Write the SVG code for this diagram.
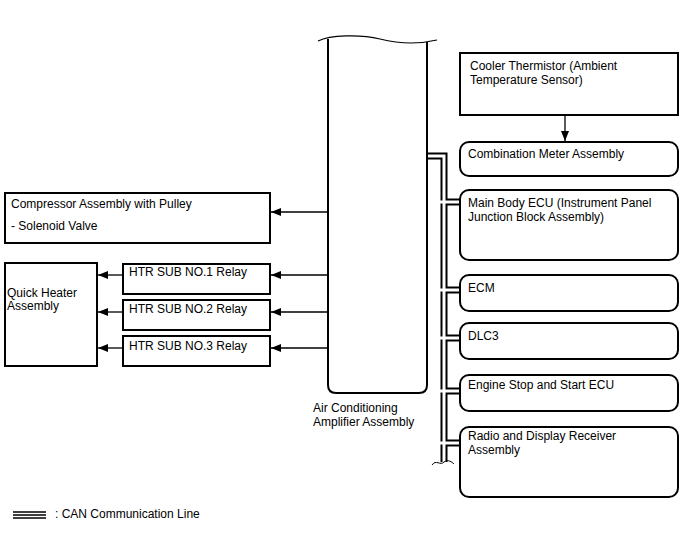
<svg xmlns="http://www.w3.org/2000/svg" width="688" height="560" viewBox="0 0 688 560">
<defs>
<marker id="ah" viewBox="0 0 10 8" refX="10" refY="4" markerWidth="10" markerHeight="8" markerUnits="userSpaceOnUse" orient="auto">
<path d="M0,0 L10,4 L0,8 Z" fill="#000"/>
</marker>
<style>
.box{fill:#fff;stroke:#000;stroke-width:2}
.t{font-family:"Liberation Sans",Arial,sans-serif;font-size:12px;fill:#000}
.arr{stroke:#000;stroke-width:1.3;fill:none;marker-end:url(#ah)}
.busO{stroke:#000;stroke-width:7;fill:none}
.busI{stroke:#fff;stroke-width:3;fill:none}
</style>
</defs>
<rect width="688" height="560" fill="#fff"/>
<g id="connectors">
<path class="busO" d="M427,156 H444 V462"/>
<path class="busO" d="M444,202 H461 M444,290 H461 M444,338 H461 M444,391 H461 M444,443 H461"/>
<path class="busI" d="M427,156 H444 V462"/>
<path class="busI" d="M440,202 H461 M440,290 H461 M440,338 H461 M440,391 H461 M440,443 H461"/>
<path d="M432,465 C436,459 440,466 444,462 C448,459 452,462 454,464" stroke="#000" stroke-width="1" fill="none"/>
<line class="arr" x1="565" y1="115" x2="565" y2="141"/>
<line class="arr" x1="328" y1="212" x2="271" y2="212"/>
<line class="arr" x1="328" y1="275" x2="271" y2="275"/>
<line class="arr" x1="328" y1="312" x2="271" y2="312"/>
<line class="arr" x1="328" y1="348" x2="271" y2="348"/>
<line class="arr" x1="123" y1="275" x2="98" y2="275"/>
<line class="arr" x1="123" y1="312" x2="98" y2="312"/>
<line class="arr" x1="123" y1="348" x2="98" y2="348"/>
</g>
<g id="amplifier">
<path d="M328,39 V385 Q328,393 336,393 H419 Q427,393 427,385 V42" fill="#fff" stroke="#000" stroke-width="2"/>
<path d="M318,41 C330,35 360,34 380,39 C400,44 420,44 437,40" fill="none" stroke="#000" stroke-width="1.2"/>
<text class="t" x="313" y="412">Air Conditioning</text>
<text class="t" x="313" y="426">Amplifier Assembly</text>
</g>
<g id="cooler">
<rect class="box" x="460" y="53" width="218" height="62"/>
<text class="t" x="470" y="70">Cooler Thermistor (Ambient</text>
<text class="t" x="470" y="84">Temperature Sensor)</text>
</g>
<g id="combination">
<rect class="box" x="460" y="142" width="218" height="34" rx="9"/>
<text class="t" x="468" y="158">Combination Meter Assembly</text>
</g>
<g id="mainbody">
<rect class="box" x="460" y="190" width="218" height="70" rx="9"/>
<text class="t" x="468" y="207">Main Body ECU (Instrument Panel</text>
<text class="t" x="468" y="221">Junction Block Assembly)</text>
</g>
<g id="ecm">
<rect class="box" x="460" y="275" width="218" height="36" rx="9"/>
<text class="t" x="468" y="292">ECM</text>
</g>
<g id="dlc3">
<rect class="box" x="460" y="323" width="218" height="36" rx="9"/>
<text class="t" x="468" y="340">DLC3</text>
</g>
<g id="enginestop">
<rect class="box" x="460" y="375" width="218" height="36" rx="9"/>
<text class="t" x="468" y="389">Engine Stop and Start ECU</text>
</g>
<g id="radio">
<rect class="box" x="460" y="427" width="218" height="70" rx="9"/>
<text class="t" x="468" y="440">Radio and Display Receiver</text>
<text class="t" x="468" y="454">Assembly</text>
</g>
<g id="compressor">
<rect class="box" x="5" y="193" width="265" height="50"/>
<text class="t" x="11" y="208">Compressor Assembly with Pulley</text>
<text class="t" x="11" y="230">- Solenoid Valve</text>
</g>
<g id="quickheater">
<rect class="box" x="5" y="263" width="92" height="103"/>
<text class="t" x="7" y="297">Quick Heater</text>
<text class="t" x="7" y="310">Assembly</text>
</g>
<g id="relay1">
<rect class="box" x="123" y="264" width="147" height="30"/>
<text class="t" x="129" y="276">HTR SUB NO.1 Relay</text>
</g>
<g id="relay2">
<rect class="box" x="123" y="300" width="147" height="30"/>
<text class="t" x="129" y="313">HTR SUB NO.2 Relay</text>
</g>
<g id="relay3">
<rect class="box" x="123" y="336" width="147" height="30"/>
<text class="t" x="129" y="350">HTR SUB NO.3 Relay</text>
</g>
<g id="legend">
<path d="M13,512 H46 M13,515 H46 M13,518 H46" stroke="#000" stroke-width="1.3"/>
<text class="t" x="55" y="518">: CAN Communication Line</text>
</g>
</svg>
